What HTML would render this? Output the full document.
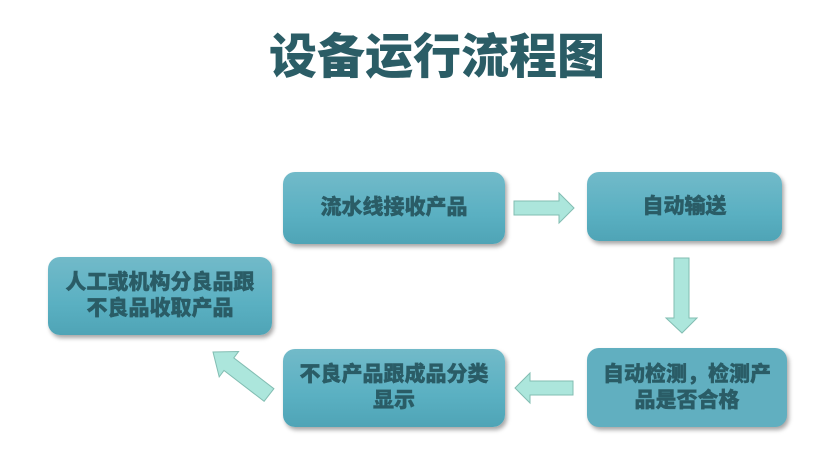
<!DOCTYPE html>
<html><head><meta charset="utf-8"><style>
body{margin:0;width:834px;height:461px;background:#fff;position:relative;overflow:hidden;font-family:"Liberation Sans","Noto Sans CJK SC",sans-serif;}
.t{position:absolute;left:20px;width:834px;top:28px;text-align:center;font-size:48px;font-weight:900;color:#2b5d66;line-height:60px}
.b{position:absolute;border-radius:12px;background:linear-gradient(#72bac9,#5ab0c2 60%,#4fa4b6);box-shadow:2px 3px 4px rgba(0,0,0,0.35);display:flex;align-items:center;justify-content:center;text-align:center;color:#2a5c66;font-weight:900;font-size:21px;line-height:26px;-webkit-text-stroke:0.4px #2a5c66}
</style></head><body>
<div class="t">设备运行流程图</div>
<div class="b" style="left:283px;top:172px;width:222px;height:72px">流水线接收产品</div>
<div class="b" style="left:587px;top:172px;width:195px;height:69px">自动输送</div>
<div class="b" style="left:587px;top:348px;width:200px;height:79px;background:#61afc0">自动检测，检测产<br>品是否合格</div>
<div class="b" style="left:283px;top:349px;width:222px;height:78px">不良产品跟成品分类<br>显示</div>
<div class="b" style="left:48px;top:257px;width:224px;height:78px">人工或机构分良品跟<br>不良品收取产品</div>
<svg width="834" height="461" style="position:absolute;left:0;top:0">
<g fill="#ace6dc" stroke="#82bdb2" stroke-width="1">
<polygon points="514,201 559,201 559,193 574,208 559,223 559,215 514,215"/>
<polygon points="674,258 689,258 689,318 697,318 682,333 666,318 674,318"/>
<polygon points="573,381 530,381 530,373 515,388 530,403 530,395 573,395"/>
<polygon points="273.9,388.7 233.8,357.9 238.6,351.5 213,352 219.2,376.9 224,370.5 264.1,401.3"/>
</g></svg>
</body></html>
